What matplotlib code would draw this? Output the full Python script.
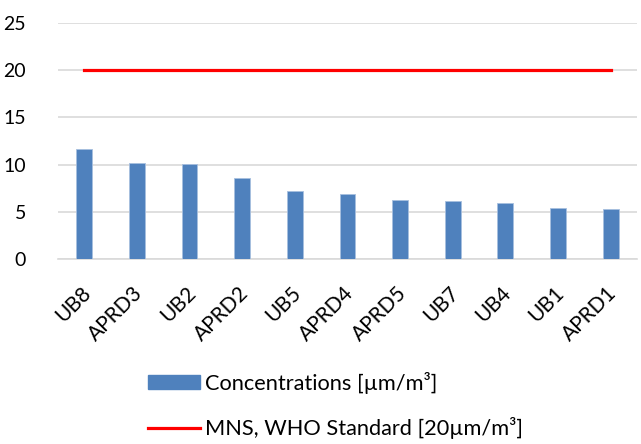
import matplotlib
matplotlib.use("Agg")
import matplotlib.pyplot as plt
from matplotlib.patches import Patch
from matplotlib.lines import Line2D
from matplotlib.transforms import ScaledTranslation

sites = ["UB8", "APRD3", "UB2", "APRD2", "UB5", "APRD4", "APRD5", "UB7", "UB4", "UB1", "APRD1"]
concentrations = [11.65, 10.2, 10.05, 8.55, 7.17, 6.92, 6.22, 6.11, 5.9, 5.4, 5.26]
who_standard = [20] * len(sites)
y_ticks = [0, 5, 10, 15, 20, 25]

plt.rcParams["font.family"] = ["Lato", "DejaVu Sans"]

fig = plt.figure(figsize=(6.41, 4.44), dpi=100)
ax = fig.add_axes([0.0905, 0.4167, 0.9032, 0.5313])

x = list(range(len(sites)))
ax.bar(x, concentrations, width=0.30, color="#4f81bd", edgecolor="#a7bfdf",
       linewidth=0.6, zorder=3)
ax.plot(x, who_standard, color="#ff0000", linewidth=2.3, zorder=4)

ax.set_xlim(-0.5, len(sites) - 0.5)
ax.set_ylim(0, 25)
ax.set_yticks(y_ticks)
ax.set_yticklabels([str(t) for t in y_ticks], fontsize=14)
ax.set_xticks(x)
ax.set_xticklabels(sites, rotation=45, ha="right", va="center", fontsize=15,
                   rotation_mode="anchor")
ax.tick_params(axis="both", length=0)
ax.tick_params(axis="y", pad=23)
ax.tick_params(axis="x", pad=22.5)
# nudge the rotated category labels slightly to the right
shift = ScaledTranslation(3 / 100, 0, fig.dpi_scale_trans)
for lbl in ax.get_xticklabels():
    lbl.set_transform(lbl.get_transform() + shift)
ax.grid(axis="y", color="#d9d9d9", linewidth=1.2, zorder=0)
for side in ["top", "right", "left"]:
    ax.spines[side].set_visible(False)
ax.spines["bottom"].set_color("#d9d9d9")
ax.spines["bottom"].set_linewidth(1.2)

handles = [Patch(facecolor="#4f81bd", edgecolor="#4f81bd"),
           Line2D([0], [0], color="#ff0000", linewidth=2.3)]
labels = ["Concentrations [µm/m³]", "MNS, WHO Standard [20µm/m³]"]
fig.legend(handles, labels, loc="upper left", bbox_to_anchor=(0.2304, 0.163),
           frameon=False, fontsize=15.7, handlelength=2.4, handleheight=0.64,
           handletextpad=0.22, labelspacing=1.09, borderaxespad=0, borderpad=0)

fig.savefig("out.png", dpi=100)
